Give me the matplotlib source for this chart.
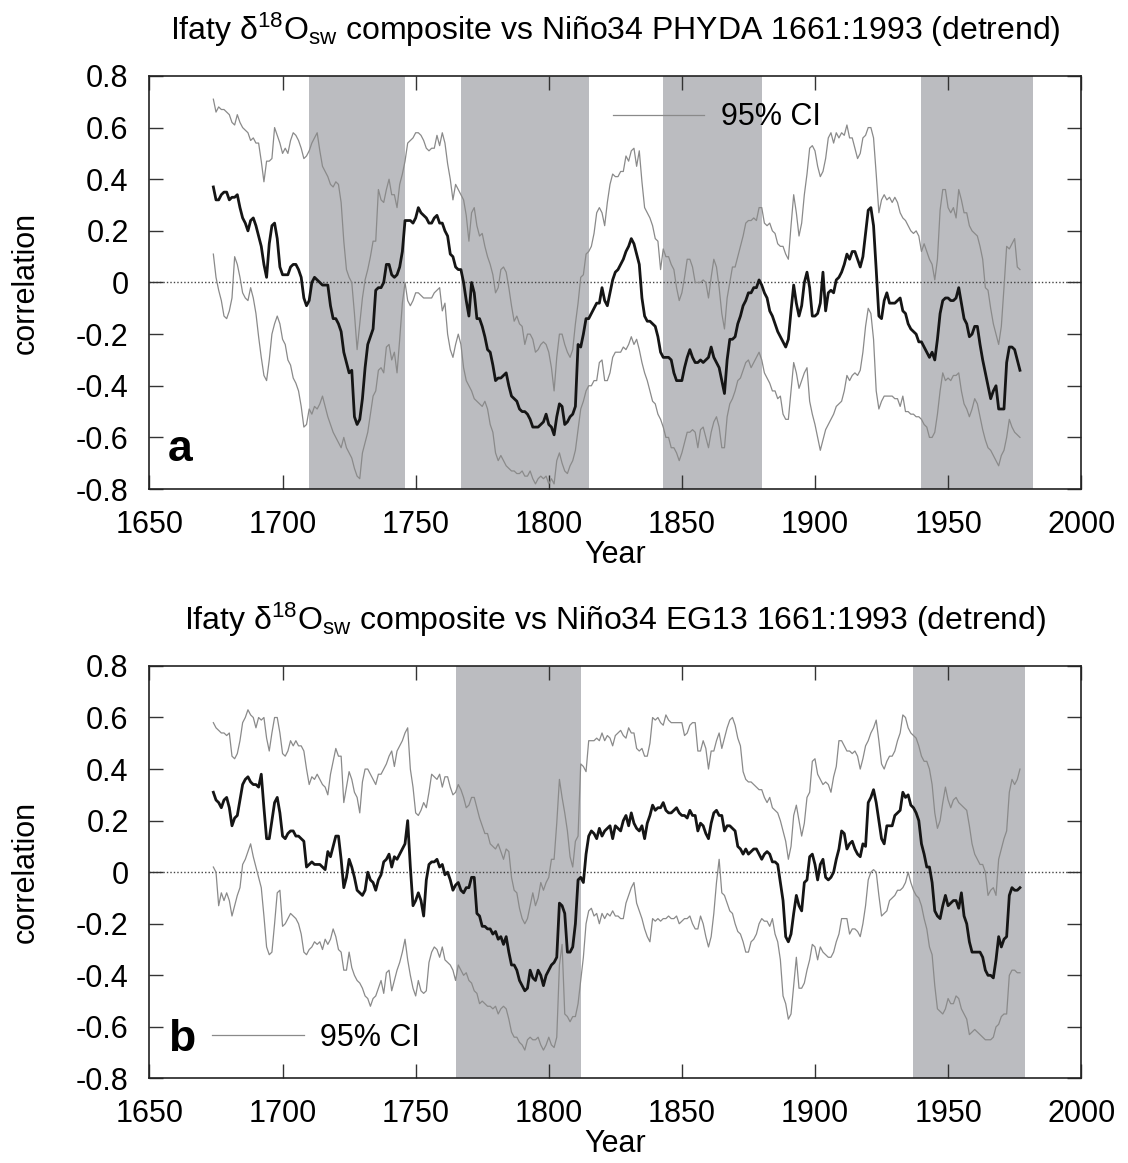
import matplotlib
matplotlib.use('Agg')
import matplotlib.pyplot as plt
from matplotlib.lines import Line2D
import numpy as np

plt.rcParams['font.family'] = ['Liberation Sans', 'DejaVu Sans']
plt.rcParams['mathtext.fontset'] = 'custom'
plt.rcParams['mathtext.rm'] = 'Liberation Sans'
plt.rcParams['mathtext.it'] = 'Liberation Sans:italic'
plt.rcParams['mathtext.bf'] = 'Liberation Sans:bold'

# running correlation window centres
years = np.arange(1674, 1978)

# ---- panel a: PHYDA ----
corr_a = [
    0.37, 0.32, 0.32, 0.34, 0.35, 0.35, 0.32, 0.33, 0.33, 0.34,
    0.29, 0.25, 0.23, 0.20, 0.24, 0.25, 0.22, 0.18, 0.14, 0.07,
    0.02, 0.15, 0.22, 0.23, 0.17, 0.06, 0.03, 0.03, 0.03, 0.06,
    0.07, 0.07, 0.05, 0.02, -0.06, -0.09, -0.07, 0.00, 0.02, 0.01,
    0.00, -0.01, -0.01, -0.01, -0.09, -0.14, -0.14, -0.16, -0.19, -0.27,
    -0.31, -0.35, -0.34, -0.52, -0.55, -0.53, -0.45, -0.33, -0.24, -0.21,
    -0.18, -0.03, -0.02, -0.02, 0.00, 0.07, 0.07, 0.03, 0.02, 0.03,
    0.06, 0.12, 0.24, 0.24, 0.24, 0.23, 0.25, 0.29, 0.27, 0.26,
    0.25, 0.23, 0.23, 0.25, 0.26, 0.23, 0.23, 0.20, 0.18, 0.11,
    0.10, 0.06, 0.05, 0.05, 0.00, -0.07, -0.13, 0.00, -0.04, -0.14,
    -0.14, -0.17, -0.21, -0.26, -0.27, -0.32, -0.38, -0.37, -0.37, -0.36,
    -0.35, -0.40, -0.44, -0.45, -0.46, -0.49, -0.50, -0.50, -0.51, -0.53,
    -0.56, -0.56, -0.56, -0.55, -0.54, -0.51, -0.55, -0.56, -0.59, -0.52,
    -0.47, -0.48, -0.55, -0.54, -0.52, -0.51, -0.48, -0.24, -0.25, -0.20,
    -0.14, -0.14, -0.12, -0.10, -0.08, -0.08, -0.02, -0.07, -0.09, -0.04,
    0.01, 0.04, 0.05, 0.07, 0.09, 0.12, 0.14, 0.17, 0.15, 0.11,
    0.07, -0.06, -0.13, -0.15, -0.15, -0.16, -0.17, -0.21, -0.27, -0.29,
    -0.29, -0.29, -0.30, -0.35, -0.38, -0.38, -0.38, -0.33, -0.29, -0.26,
    -0.29, -0.31, -0.31, -0.30, -0.31, -0.30, -0.29, -0.25, -0.29, -0.31,
    -0.33, -0.38, -0.43, -0.30, -0.22, -0.22, -0.21, -0.16, -0.13, -0.09,
    -0.07, -0.04, -0.04, -0.02, -0.02, 0.01, -0.01, -0.04, -0.06, -0.11,
    -0.13, -0.16, -0.19, -0.21, -0.23, -0.25, -0.22, -0.11, -0.01, -0.08,
    -0.13, -0.09, 0.00, 0.04, -0.02, -0.13, -0.13, -0.12, -0.08, 0.04,
    -0.11, -0.04, -0.03, -0.04, 0.01, 0.02, 0.04, 0.07, 0.11, 0.09,
    0.12, 0.12, 0.09, 0.06, 0.10, 0.19, 0.28, 0.29, 0.22, 0.05,
    -0.13, -0.14, -0.07, -0.04, -0.08, -0.08, -0.08, -0.07, -0.06, -0.11,
    -0.12, -0.16, -0.18, -0.19, -0.20, -0.23, -0.23, -0.25, -0.27, -0.29,
    -0.27, -0.30, -0.22, -0.12, -0.07, -0.06, -0.06, -0.07, -0.07, -0.06,
    -0.02, -0.08, -0.14, -0.16, -0.21, -0.20, -0.17, -0.17, -0.24, -0.30,
    -0.35, -0.40, -0.45, -0.42, -0.40, -0.49, -0.49, -0.49, -0.31, -0.25,
    -0.25, -0.26, -0.30, -0.34,
]
upper_a = [
    0.71, 0.66, 0.68, 0.67, 0.67, 0.66, 0.65, 0.62, 0.61, 0.65,
    0.62, 0.60, 0.59, 0.58, 0.55, 0.56, 0.54, 0.54, 0.47, 0.39,
    0.47, 0.47, 0.48, 0.60, 0.57, 0.54, 0.50, 0.52, 0.50, 0.55,
    0.58, 0.57, 0.55, 0.52, 0.48, 0.49, 0.51, 0.54, 0.56, 0.58,
    0.51, 0.45, 0.43, 0.41, 0.38, 0.37, 0.39, 0.38, 0.31, 0.16,
    0.05, 0.02, 0.00, -0.12, -0.26, -0.16, -0.06, 0.01, 0.05, 0.10,
    0.16, 0.16, 0.36, 0.32, 0.31, 0.36, 0.40, 0.34, 0.34, 0.29,
    0.38, 0.42, 0.47, 0.54, 0.55, 0.56, 0.58, 0.58, 0.57, 0.55,
    0.52, 0.51, 0.52, 0.52, 0.57, 0.53, 0.58, 0.54, 0.46, 0.40,
    0.32, 0.38, 0.36, 0.34, 0.32, 0.26, 0.16, 0.27, 0.29, 0.22,
    0.18, 0.19, 0.14, 0.10, 0.07, 0.03, -0.04, -0.02, 0.05, 0.06,
    0.04, -0.02, -0.09, -0.15, -0.13, -0.16, -0.17, -0.24, -0.20, -0.20,
    -0.22, -0.27, -0.26, -0.24, -0.23, -0.24, -0.27, -0.33, -0.42, -0.29,
    -0.20, -0.20, -0.24, -0.27, -0.29, -0.26, -0.16, -0.08, 0.02, 0.03,
    0.11, 0.12, 0.14, 0.19, 0.27, 0.29, 0.27, 0.22, 0.31, 0.38,
    0.42, 0.41, 0.41, 0.43, 0.43, 0.49, 0.47, 0.51, 0.52, 0.45,
    0.51, 0.39, 0.29, 0.27, 0.25, 0.22, 0.17, 0.16, 0.05, 0.13,
    0.10, 0.10, 0.07, 0.05, -0.02, -0.07, -0.04, 0.02, 0.09, 0.09,
    0.06, 0.00, 0.00, 0.00, 0.01, 0.00, -0.06, 0.02, 0.09, 0.06,
    -0.02, -0.12, -0.18, -0.06, 0.00, 0.06, 0.06, 0.10, 0.14, 0.18,
    0.23, 0.24, 0.24, 0.25, 0.24, 0.29, 0.29, 0.23, 0.22, 0.23,
    0.20, 0.19, 0.15, 0.14, 0.14, 0.11, 0.09, 0.22, 0.34, 0.27,
    0.18, 0.23, 0.34, 0.42, 0.52, 0.53, 0.51, 0.45, 0.41, 0.43,
    0.48, 0.56, 0.58, 0.54, 0.58, 0.56, 0.58, 0.57, 0.61, 0.56,
    0.56, 0.52, 0.48, 0.50, 0.56, 0.57, 0.60, 0.60, 0.56, 0.42,
    0.27, 0.32, 0.34, 0.32, 0.33, 0.31, 0.33, 0.31, 0.27, 0.25,
    0.24, 0.22, 0.20, 0.19, 0.20, 0.18, 0.12, 0.15, 0.12, 0.09,
    0.07, 0.01, 0.09, 0.28, 0.36, 0.36, 0.29, 0.27, 0.29, 0.25,
    0.36, 0.32, 0.27, 0.27, 0.22, 0.20, 0.19, 0.18, 0.14, 0.09,
    -0.02, -0.03, -0.10, -0.16, -0.20, -0.24, -0.17, -0.02, 0.14, 0.13,
    0.15, 0.17, 0.06, 0.05,
]
lower_a = [
    0.11, 0.02, -0.03, -0.07, -0.13, -0.14, -0.11, -0.06, 0.10, 0.07,
    0.02, -0.04, -0.06, -0.07, -0.02, -0.06, -0.12, -0.21, -0.29, -0.36,
    -0.38, -0.30, -0.20, -0.16, -0.13, -0.16, -0.22, -0.24, -0.30, -0.32,
    -0.37, -0.39, -0.42, -0.48, -0.56, -0.55, -0.49, -0.51, -0.48, -0.49,
    -0.47, -0.44, -0.48, -0.52, -0.55, -0.58, -0.60, -0.62, -0.64, -0.60,
    -0.64, -0.66, -0.68, -0.72, -0.75, -0.76, -0.66, -0.62, -0.58, -0.51,
    -0.44, -0.42, -0.34, -0.33, -0.35, -0.25, -0.24, -0.30, -0.27, -0.35,
    -0.22, -0.08, 0.00, -0.07, -0.09, -0.07, -0.04, -0.04, -0.05, -0.06,
    -0.06, -0.06, -0.06, -0.04, -0.03, -0.02, -0.11, -0.08, -0.20, -0.26,
    -0.29, -0.24, -0.20, -0.24, -0.33, -0.38, -0.40, -0.42, -0.45, -0.46,
    -0.47, -0.48, -0.46, -0.49, -0.55, -0.58, -0.66, -0.69, -0.67, -0.69,
    -0.71, -0.72, -0.73, -0.73, -0.74, -0.74, -0.73, -0.75, -0.75, -0.73,
    -0.76, -0.78, -0.76, -0.75, -0.76, -0.75, -0.78, -0.76, -0.78, -0.69,
    -0.66, -0.70, -0.73, -0.74, -0.71, -0.69, -0.65, -0.57, -0.49, -0.46,
    -0.42, -0.40, -0.40, -0.38, -0.38, -0.31, -0.30, -0.38, -0.38, -0.35,
    -0.29, -0.27, -0.27, -0.27, -0.25, -0.26, -0.24, -0.21, -0.24, -0.22,
    -0.26, -0.31, -0.35, -0.38, -0.42, -0.46, -0.47, -0.51, -0.53, -0.56,
    -0.60, -0.60, -0.64, -0.64, -0.66, -0.69, -0.66, -0.62, -0.58, -0.58,
    -0.57, -0.58, -0.64, -0.57, -0.56, -0.60, -0.64, -0.58, -0.54, -0.52,
    -0.56, -0.64, -0.64, -0.52, -0.47, -0.45, -0.42, -0.38, -0.37, -0.34,
    -0.31, -0.30, -0.33, -0.31, -0.29, -0.27, -0.30, -0.35, -0.37, -0.39,
    -0.42, -0.42, -0.45, -0.44, -0.51, -0.53, -0.53, -0.42, -0.31, -0.35,
    -0.41, -0.38, -0.35, -0.33, -0.46, -0.51, -0.55, -0.60, -0.65, -0.61,
    -0.57, -0.55, -0.53, -0.51, -0.48, -0.47, -0.46, -0.42, -0.36, -0.38,
    -0.36, -0.35, -0.36, -0.34, -0.27, -0.17, -0.10, -0.12, -0.22, -0.42,
    -0.49, -0.46, -0.44, -0.44, -0.44, -0.44, -0.45, -0.45, -0.48, -0.44,
    -0.50, -0.50, -0.51, -0.51, -0.52, -0.52, -0.53, -0.55, -0.56, -0.60,
    -0.60, -0.58, -0.51, -0.42, -0.35, -0.38, -0.37, -0.38, -0.36, -0.36,
    -0.35, -0.42, -0.47, -0.49, -0.52, -0.49, -0.45, -0.47, -0.52, -0.57,
    -0.61, -0.64, -0.65, -0.67, -0.69, -0.71, -0.67, -0.65, -0.60, -0.53,
    -0.56, -0.58, -0.59, -0.60,
]
bands_a = [(1710, 1746), (1767, 1815), (1843, 1880), (1940, 1982)]

# ---- panel b: EG13 ----
corr_b = [
    0.31, 0.28, 0.27, 0.25, 0.28, 0.29, 0.25, 0.18, 0.21, 0.22,
    0.28, 0.34, 0.36, 0.37, 0.35, 0.34, 0.34, 0.33, 0.38, 0.25,
    0.13, 0.13, 0.20, 0.27, 0.29, 0.23, 0.14, 0.13, 0.15, 0.16,
    0.16, 0.14, 0.14, 0.13, 0.12, 0.02, 0.03, 0.04, 0.03, 0.03,
    0.03, 0.02, 0.01, 0.08, 0.06, 0.10, 0.14, 0.14, 0.05, -0.06,
    -0.02, 0.05, 0.02, -0.02, -0.07, -0.08, -0.09, -0.07, 0.00, -0.03,
    -0.04, -0.07, -0.03, -0.01, 0.04, 0.05, 0.07, 0.02, 0.06, 0.05,
    0.07, 0.09, 0.11, 0.20, 0.02, -0.13, -0.11, -0.08, -0.11, -0.17,
    -0.03, 0.03, 0.04, 0.04, 0.05, 0.02, 0.03, -0.01, 0.00, -0.03,
    -0.07, -0.05, -0.04, -0.07, -0.08, -0.06, -0.06, -0.02, -0.02, -0.16,
    -0.17, -0.21, -0.21, -0.22, -0.22, -0.24, -0.23, -0.26, -0.25, -0.28,
    -0.25, -0.31, -0.36, -0.36, -0.38, -0.42, -0.44, -0.46, -0.45, -0.38,
    -0.41, -0.42, -0.38, -0.40, -0.44, -0.40, -0.38, -0.36, -0.35, -0.33,
    -0.12, -0.13, -0.16, -0.31, -0.31, -0.29, -0.20, -0.03, -0.02, -0.04,
    0.07, 0.14, 0.16, 0.15, 0.13, 0.17, 0.14, 0.16, 0.17, 0.18,
    0.13, 0.18, 0.17, 0.16, 0.20, 0.22, 0.18, 0.23, 0.19, 0.17,
    0.16, 0.18, 0.13, 0.19, 0.22, 0.26, 0.24, 0.25, 0.25, 0.27,
    0.24, 0.23, 0.23, 0.24, 0.25, 0.23, 0.22, 0.22, 0.21, 0.24,
    0.22, 0.22, 0.16, 0.19, 0.18, 0.15, 0.13, 0.19, 0.23, 0.24,
    0.22, 0.22, 0.16, 0.18, 0.18, 0.17, 0.16, 0.10, 0.09, 0.07,
    0.09, 0.07, 0.08, 0.09, 0.09, 0.07, 0.05, 0.07, 0.08, 0.07,
    0.04, 0.04, 0.03, -0.04, -0.11, -0.25, -0.27, -0.24, -0.16, -0.09,
    -0.13, -0.15, -0.04, -0.03, 0.06, 0.07, 0.03, -0.03, 0.03, 0.05,
    -0.02, -0.03, -0.02, 0.00, 0.05, 0.09, 0.16, 0.15, 0.09, 0.11,
    0.12, 0.09, 0.07, 0.06, 0.11, 0.10, 0.27, 0.29, 0.32, 0.27,
    0.20, 0.13, 0.11, 0.18, 0.18, 0.18, 0.22, 0.23, 0.24, 0.31,
    0.29, 0.30, 0.26, 0.25, 0.23, 0.20, 0.11, 0.07, 0.02, 0.02,
    -0.04, -0.15, -0.17, -0.18, -0.13, -0.09, -0.13, -0.12, -0.11, -0.11,
    -0.14, -0.08, -0.17, -0.20, -0.27, -0.31, -0.31, -0.31, -0.31, -0.33,
    -0.38, -0.40, -0.40, -0.41, -0.34, -0.25, -0.29, -0.26, -0.25, -0.09,
    -0.06, -0.07, -0.07, -0.06,
]
upper_b = [
    0.58, 0.56, 0.55, 0.54, 0.54, 0.53, 0.54, 0.45, 0.44, 0.46,
    0.51, 0.58, 0.60, 0.63, 0.61, 0.60, 0.56, 0.60, 0.59, 0.60,
    0.52, 0.47, 0.54, 0.60, 0.60, 0.54, 0.46, 0.45, 0.47, 0.51,
    0.49, 0.51, 0.49, 0.49, 0.47, 0.40, 0.34, 0.37, 0.36, 0.38,
    0.36, 0.34, 0.33, 0.30, 0.38, 0.43, 0.48, 0.45, 0.45, 0.27,
    0.33, 0.39, 0.36, 0.31, 0.29, 0.23, 0.35, 0.40, 0.40, 0.38,
    0.36, 0.34, 0.38, 0.38, 0.40, 0.42, 0.45, 0.47, 0.41, 0.47,
    0.49, 0.51, 0.54, 0.56, 0.40, 0.33, 0.23, 0.22, 0.24, 0.27,
    0.25, 0.31, 0.38, 0.37, 0.36, 0.38, 0.33, 0.37, 0.37, 0.33,
    0.30, 0.31, 0.34, 0.32, 0.29, 0.25, 0.26, 0.29, 0.29, 0.25,
    0.21, 0.18, 0.15, 0.15, 0.11, 0.10, 0.09, 0.11, 0.08, 0.05,
    0.09, 0.08, -0.02, -0.07, -0.08, -0.14, -0.18, -0.20, -0.18, -0.13,
    -0.08, -0.13, -0.10, -0.04, -0.07, -0.04, -0.02, 0.05, 0.05, 0.19,
    0.36, 0.29, 0.23, 0.16, 0.06, 0.02, 0.12, 0.14, 0.42, 0.41,
    0.39, 0.51, 0.51, 0.51, 0.52, 0.51, 0.54, 0.51, 0.53, 0.52,
    0.49, 0.53, 0.54, 0.55, 0.53, 0.52, 0.56, 0.54, 0.54, 0.48,
    0.47, 0.48, 0.45, 0.45, 0.50, 0.60, 0.59, 0.60, 0.58, 0.57,
    0.61, 0.59, 0.58, 0.58, 0.58, 0.58, 0.58, 0.53, 0.54, 0.57,
    0.58, 0.58, 0.47, 0.47, 0.51, 0.48, 0.40, 0.47, 0.47, 0.51,
    0.54, 0.48, 0.52, 0.56, 0.59, 0.60, 0.57, 0.52, 0.49, 0.39,
    0.36, 0.35, 0.35, 0.34, 0.33, 0.32, 0.32, 0.29, 0.27, 0.29,
    0.25, 0.24, 0.23, 0.20, 0.16, 0.12, 0.05, 0.10, 0.22, 0.26,
    0.20, 0.14, 0.19, 0.29, 0.31, 0.43, 0.44, 0.38, 0.36, 0.34,
    0.35, 0.34, 0.31, 0.37, 0.41, 0.51, 0.51, 0.49, 0.47, 0.47,
    0.46, 0.47, 0.45, 0.40, 0.44, 0.49, 0.51, 0.54, 0.56, 0.59,
    0.51, 0.42, 0.40, 0.43, 0.45, 0.45, 0.47, 0.51, 0.54, 0.61,
    0.60, 0.56, 0.54, 0.53, 0.52, 0.49, 0.45, 0.43, 0.43, 0.40,
    0.34, 0.23, 0.17, 0.20, 0.27, 0.33, 0.28, 0.25, 0.28, 0.29,
    0.27, 0.26, 0.25, 0.24, 0.18, 0.11, 0.07, 0.05, 0.03, 0.03,
    0.00, -0.09, -0.07, -0.06, -0.09, 0.05, 0.09, 0.13, 0.16, 0.31,
    0.36, 0.34, 0.36, 0.40,
]
lower_b = [
    0.02, 0.00, -0.13, -0.08, -0.11, -0.08, -0.11, -0.17, -0.13, -0.09,
    -0.06, 0.03, 0.05, 0.08, 0.11, 0.06, 0.02, -0.02, -0.06, -0.17,
    -0.29, -0.32, -0.31, -0.20, -0.08, -0.07, -0.21, -0.20, -0.18, -0.16,
    -0.17, -0.18, -0.20, -0.24, -0.31, -0.32, -0.30, -0.29, -0.27, -0.28,
    -0.27, -0.30, -0.26, -0.28, -0.26, -0.22, -0.25, -0.30, -0.31, -0.38,
    -0.38, -0.31, -0.37, -0.40, -0.42, -0.43, -0.45, -0.48, -0.49, -0.52,
    -0.49, -0.48, -0.45, -0.42, -0.47, -0.39, -0.38, -0.46, -0.42, -0.38,
    -0.35, -0.31, -0.26, -0.34, -0.40, -0.45, -0.48, -0.42, -0.46, -0.47,
    -0.46, -0.35, -0.31, -0.29, -0.30, -0.33, -0.29, -0.34, -0.35, -0.36,
    -0.38, -0.42, -0.36, -0.38, -0.40, -0.39, -0.42, -0.43, -0.46, -0.47,
    -0.51, -0.50, -0.51, -0.52, -0.52, -0.53, -0.52, -0.55, -0.53, -0.52,
    -0.53, -0.57, -0.62, -0.64, -0.64, -0.66, -0.67, -0.69, -0.65, -0.64,
    -0.65, -0.65, -0.64, -0.67, -0.69, -0.67, -0.64, -0.67, -0.68, -0.64,
    -0.36, -0.28, -0.55, -0.56, -0.58, -0.56, -0.56, -0.51, -0.42, -0.33,
    -0.20, -0.15, -0.14, -0.17, -0.16, -0.20, -0.16, -0.18, -0.16, -0.17,
    -0.15, -0.17, -0.17, -0.18, -0.18, -0.12, -0.09, -0.06, -0.04, -0.12,
    -0.15, -0.18, -0.22, -0.25, -0.27, -0.18, -0.19, -0.18, -0.19, -0.18,
    -0.18, -0.17, -0.18, -0.18, -0.17, -0.20, -0.19, -0.18, -0.18, -0.17,
    -0.20, -0.22, -0.22, -0.17, -0.20, -0.25, -0.29, -0.25, -0.16, -0.04,
    0.05, -0.08, -0.09, -0.12, -0.15, -0.16, -0.20, -0.23, -0.24, -0.27,
    -0.31, -0.31, -0.27, -0.26, -0.24, -0.20, -0.18, -0.19, -0.19, -0.21,
    -0.18, -0.24, -0.27, -0.34, -0.48, -0.51, -0.57, -0.55, -0.44, -0.33,
    -0.45, -0.45, -0.43, -0.38, -0.34, -0.28, -0.29, -0.34, -0.29, -0.31,
    -0.32, -0.33, -0.33, -0.31, -0.27, -0.24, -0.18, -0.18, -0.18, -0.24,
    -0.22, -0.22, -0.23, -0.25, -0.20, -0.13, -0.03, 0.00, 0.01, 0.00,
    -0.09, -0.17, -0.16, -0.15, -0.11, -0.10, -0.09, -0.07, -0.07, -0.06,
    -0.04, 0.00, -0.04, -0.07, -0.09, -0.10, -0.13, -0.18, -0.22, -0.29,
    -0.32, -0.44, -0.53, -0.54, -0.55, -0.53, -0.49, -0.51, -0.51, -0.48,
    -0.49, -0.53, -0.55, -0.57, -0.63, -0.62, -0.61, -0.62, -0.63, -0.64,
    -0.65, -0.65, -0.65, -0.64, -0.60, -0.59, -0.56, -0.55, -0.55, -0.40,
    -0.38, -0.38, -0.39, -0.39,
]
bands_b = [(1765, 1812), (1937, 1979)]

title_a = r'Ifaty δ$^{18}$O$_{\mathrm{sw}}$ composite vs Niño34 PHYDA 1661:1993 (detrend)'
title_b = r'Ifaty δ$^{18}$O$_{\mathrm{sw}}$ composite vs Niño34 EG13 1661:1993 (detrend)'

yticks = [-0.8, -0.6, -0.4, -0.2, 0, 0.2, 0.4, 0.6, 0.8]
ytick_labels = ['-0.8', '-0.6', '-0.4', '-0.2', '0', '0.2', '0.4', '0.6', '0.8']
xticks = [1650, 1700, 1750, 1800, 1850, 1900, 1950, 2000]

band_color = '#bbbcc0'
ci_color = '#8a8a8a'
fs = 22


def draw_panel(ax, r, up, lo, bands, title, letter, leg_xy):
    for b0, b1 in bands:
        ax.axvspan(b0, b1, color=band_color, lw=0, zorder=0)
    ax.axhline(0, color='#444444', lw=1.0, ls=(0, (1, 1.5)), zorder=1)
    ax.plot(years, up, color=ci_color, lw=0.9, zorder=2)
    ax.plot(years, lo, color=ci_color, lw=0.9, zorder=2)
    ax.plot(years, r, color='#151515', lw=2.0, zorder=3)

    ax.set_xlim(1650, 2000)
    ax.set_ylim(-0.8, 0.8)
    ax.set_xticks(xticks)
    ax.set_xticklabels([str(x) for x in xticks])
    ax.set_yticks(yticks)
    ax.set_yticklabels(ytick_labels)
    ax.tick_params(direction='in', length=10, width=1.0, labelsize=fs,
                   top=True, right=True, pad=15, color='#333333')
    for s in ax.spines.values():
        s.set_linewidth(1.2)
        s.set_color('#222222')
    ax.set_xlabel('Year', fontsize=fs, labelpad=0)
    ax.set_ylabel('correlation', fontsize=fs, labelpad=25)
    ax.set_title(title, fontsize=23, pad=26)
    ax.text(0.02, 0.045, letter, transform=ax.transAxes, fontsize=32,
            fontweight='bold', ha='left', va='bottom')

    h = Line2D([], [], color=ci_color, lw=0.9)
    ax.legend([h], ['95% CI'], loc='center left', bbox_to_anchor=leg_xy,
              frameon=False, fontsize=fs, handlelength=3.0,
              handletextpad=0.55, borderpad=0, borderaxespad=0)


fig = plt.figure(figsize=(11.28, 11.63), dpi=100)
ax_a = fig.add_axes([0.1325, 0.5795, 0.826, 0.3552])
ax_b = fig.add_axes([0.1325, 0.0727, 0.826, 0.3547])

draw_panel(ax_a, corr_a, upper_a, lower_a, bands_a, title_a, 'a', (0.497, 0.90))
draw_panel(ax_b, corr_b, upper_b, lower_b, bands_b, title_b, 'b', (0.067, 0.098))

fig.savefig('out.png', dpi=100)
